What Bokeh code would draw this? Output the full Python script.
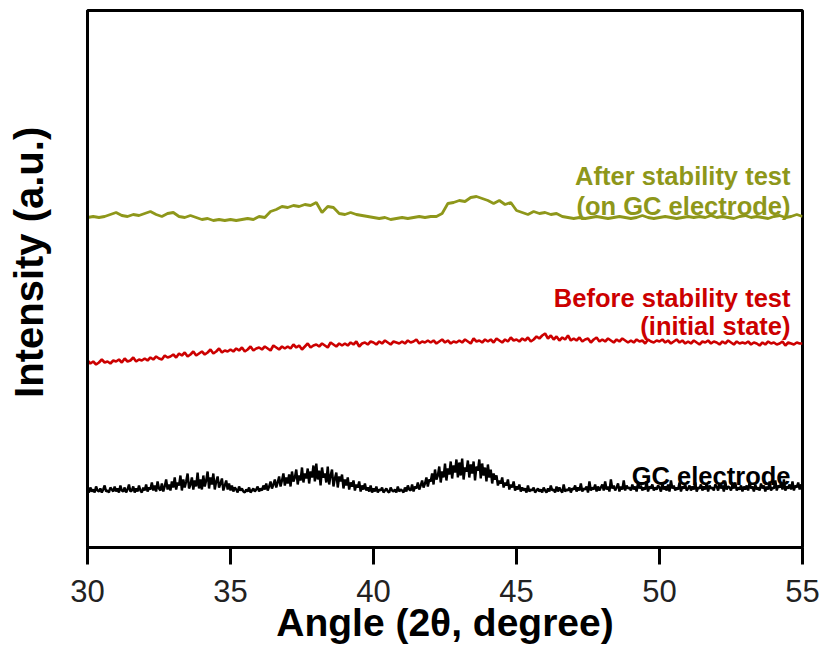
import numpy as np
from bokeh.plotting import figure
from bokeh.models import Range1d, FixedTicker, Label
from bokeh.embed import file_html
from bokeh.resources import INLINE

# ---- data (intensity in arbitrary units, offset for stacking) ----
x_start, x_end = 30.0, 55.0

# After stability test (on GC electrode), 0.2 degree steps
after_y = [
    330, 331, 330, 331, 333, 335,
    332, 331, 333, 332, 334,
    336, 333, 331, 334, 335,
    331, 330, 332, 330, 328,
    329, 327, 328, 327, 328,
    327, 328, 329, 328, 331,
    330, 336, 338, 341, 340,
    342, 341, 343, 342, 345,
    335, 341, 340, 334, 333,
    335, 333, 332, 331, 330,
    329, 330, 328, 329, 330,
    329, 330, 331, 330, 331,
    331, 334, 344, 345, 347,
    346, 350, 351, 349, 347,
    344, 347, 343, 345, 337,
    335, 333, 336, 334, 335,
    333, 334, 331, 330, 329,
    330, 329, 330, 331, 330,
    329, 330, 331, 330, 329,
    330, 332, 330, 329, 330,
    331, 330, 329, 330, 331,
    330, 331, 330, 332, 330,
    331, 330, 329, 331, 332,
    330, 331, 330, 329, 331,
    332, 330, 331, 333, 331,
]

# Before stability test (initial state), 0.1 degree steps
before_y = [
    187, 184, 186, 183, 185, 188, 185, 186, 184, 187,
    186, 188, 185, 189, 186, 187, 190, 186, 188, 187,
    189, 187, 190, 188, 191, 189, 188, 192, 190, 191,
    193, 190, 194, 192, 195, 191, 193, 196, 192, 194,
    196, 193, 195, 198, 194, 196, 199, 195, 197, 196,
    198, 196, 199, 197, 200, 196, 198, 201, 197, 199,
    200, 198, 201, 199, 197, 202, 200, 198, 201, 199,
    201, 199, 203, 200, 202, 198, 201, 204, 200, 202,
    203, 201, 204, 202, 200, 205, 203, 201, 204, 202,
    204, 202, 205, 203, 206, 201, 204, 205, 203, 206,
    205, 203, 206, 204, 207, 205, 203, 206, 205, 204,
    206, 204, 207, 205, 206, 208, 204, 206, 205, 207,
    205, 207, 204, 206, 208, 205, 207, 204, 206, 205,
    207, 205, 208, 206, 204, 209, 206, 207, 205, 208,
    206, 208, 205, 209, 207, 205, 208, 206, 210, 207,
    208, 206, 209, 207, 210, 206, 208, 211, 209, 212,
    214, 209, 212, 208, 211, 207, 210, 208, 212, 207,
    209, 207, 210, 206, 208, 209, 205, 208, 210, 206,
    208, 206, 209, 207, 205, 208, 206, 209, 207, 205,
    207, 205, 208, 206, 207, 204, 208, 206, 205, 207,
    206, 208, 205, 207, 204, 206, 208, 205, 207, 204,
    206, 204, 207, 205, 203, 206, 205, 207, 204, 206,
    205, 203, 206, 204, 207, 205, 203, 206, 204, 205,
    204, 206, 203, 205, 204, 202, 205, 203, 206, 204,
    205, 203, 204, 206, 202, 205, 204, 203, 205, 204,
    204,
]

# GC electrode, 0.05 degree steps
gc_y = [
    57, 55, 60, 56, 58, 55, 61, 57, 56, 59, 55, 58, 62, 56, 57, 55, 60, 58, 56, 61,
    56, 59, 55, 62, 57, 56, 60, 55, 58, 63, 56, 57, 61, 55, 59, 56, 62, 57, 55, 60,
    57, 63, 56, 60, 58, 65, 57, 62, 56, 66, 59, 57, 64, 56, 61, 68, 58, 63, 57, 66,
    60, 70, 58, 65, 62, 72, 57, 68, 60, 66, 74, 59, 63, 70, 58, 67, 61, 75, 59, 68,
    58, 72, 61, 67, 76, 59, 70, 63, 74, 58, 66, 71, 60, 64, 69, 57, 62, 67, 58, 64,
    57, 62, 56, 60, 58, 55, 61, 57, 59, 56, 55, 58, 56, 60, 55, 57, 59, 56, 58, 61,
    56, 59, 57, 62, 58, 64, 57, 61, 66, 59, 63, 68, 60, 65, 71, 61, 67, 74, 62, 70,
    64, 73, 61, 76, 66, 70, 78, 63, 72, 67, 80, 65, 74, 69, 79, 64, 76, 70, 82, 66,
    84, 68, 77, 62, 80, 70, 74, 65, 81, 63, 72, 78, 61, 69, 75, 60, 71, 66, 73, 59,
    68, 62, 70, 58, 65, 61, 67, 57, 63, 60, 66, 56, 62, 58, 64, 57, 60, 56, 62, 55,
    59, 56, 61, 55, 58, 57, 60, 55, 57, 59, 56, 55, 60, 57, 56, 58, 55, 61, 56, 58,
    57, 55, 60, 56, 62, 58, 57, 63, 56, 61, 59, 65, 58, 62, 67, 60, 64, 70, 61, 68,
    66, 74, 63, 78, 68, 72, 81, 65, 76, 70, 84, 67, 79, 73, 86, 69, 82, 75, 88, 70,
    85, 72, 89, 68, 80, 76, 87, 70, 83, 74, 86, 67, 81, 77, 88, 69, 84, 72, 80, 66,
    83, 70, 78, 64, 74, 68, 72, 62, 67, 64, 70, 60, 65, 62, 68, 58, 63, 60, 66, 57,
    61, 58, 63, 56, 60, 57, 59, 55, 62, 56, 58, 57, 60, 55, 57, 59, 56, 58, 55, 60,
    57, 55, 59, 56, 62, 57, 58, 55, 61, 56, 60, 57, 55, 63, 56, 58, 57, 60, 55, 59,
    58, 62, 56, 60, 57, 64, 56, 59, 58, 61, 55, 66, 57, 60, 58, 63, 56, 61, 57, 60,
    63, 57, 66, 58, 61, 56, 68, 59, 62, 57, 60, 64, 56, 61, 58, 67, 57, 62, 59, 60,
    57, 63, 58, 61, 56, 65, 59, 62, 57, 60, 58, 66, 56, 61, 59, 63, 57, 60, 58, 62,
    60, 56, 64, 58, 61, 57, 63, 56, 67, 59, 62, 57, 60, 58, 65, 56, 61, 59, 63, 57,
    59, 62, 57, 61, 58, 65, 56, 60, 59, 63, 57, 61, 58, 64, 56, 62, 59, 60, 57, 63,
    61, 57, 64, 59, 62, 56, 66, 58, 61, 60, 57, 63, 59, 65, 57, 60, 58, 62, 56, 61,
    58, 62, 57, 65, 59, 61, 56, 63, 58, 60, 57, 64, 59, 62, 56, 61, 58, 66, 57, 60,
    59, 67, 57, 62, 60, 64, 58, 68, 57, 61, 59, 63, 58, 66, 57, 62, 60, 65, 58, 63,
    61,
]

x_ticks = [30, 35, 40, 45, 50, 55]

after_x = np.linspace(x_start, x_end, len(after_y))
before_x = np.linspace(x_start, x_end, len(before_y))
gc_x = np.linspace(x_start, x_end, len(gc_y))

OLIVE = "#8E971A"
RED = "#CC0000"
FONT = "Liberation Sans"

p = figure(
    frame_width=715, frame_height=537,
    min_border_left=87, min_border_right=23, min_border_top=10, min_border_bottom=116,
    x_range=Range1d(x_start, x_end), y_range=Range1d(0, 537),
    output_backend="svg", toolbar_location=None,
    background_fill_color="white", border_fill_color="white",
)
p.grid.visible = False
p.outline_line_color = "black"
p.outline_line_width = 3

p.line(gc_x, gc_y, line_color="black", line_width=2.4)
p.line(before_x, before_y, line_color=RED, line_width=2.6)
p.line(after_x, after_y, line_color=OLIVE, line_width=2.8)

xa = p.xaxis[0]
xa.ticker = FixedTicker(ticks=x_ticks)
xa.minor_tick_line_color = None
xa.major_tick_in = 0
xa.major_tick_out = 17
xa.major_tick_line_width = 3
xa.axis_line_width = 3
xa.major_label_text_font = FONT
xa.major_label_text_font_size = "31px"
xa.major_label_text_color = "#222222"
xa.major_label_standoff = 15
xa.axis_label = "Angle (2θ, degree)"
xa.axis_label_text_font = FONT
xa.axis_label_text_font_style = "bold"
xa.axis_label_text_font_size = "39px"
xa.axis_label_text_color = "black"
xa.axis_label_standoff = -4

ya = p.yaxis[0]
ya.ticker = FixedTicker(ticks=[])
ya.minor_tick_line_color = None
ya.major_tick_in = 0
ya.major_tick_out = 0
ya.axis_line_width = 3
# leading no-break spaces lift the centred (bottom-to-top) title above the frame centre
ya.axis_label = "\u00a0\u00a0\u00a0" + "Intensity (a.u.)"
ya.axis_label_text_font = FONT
ya.axis_label_text_font_style = "bold"
ya.axis_label_text_font_size = "40px"
ya.axis_label_text_color = "black"
ya.axis_label_standoff = 37

label_x = 54.58
for txt, yy, col in [
    ("After stability test", 372, OLIVE),
    ("(on GC electrode)", 342, OLIVE),
    ("Before stability test", 250, RED),
    ("(initial state)", 222, RED),
    ("GC electrode", 72, "black"),
]:
    p.add_layout(Label(x=label_x, y=yy, text=txt, text_align="right",
                       text_baseline="alphabetic", text_font=FONT,
                       text_font_style="bold", text_font_size="25.5px",
                       text_color=col))

open("out.html", "w").write(file_html(p, INLINE))
